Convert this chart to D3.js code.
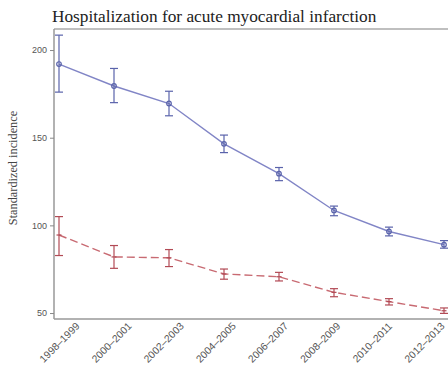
<!DOCTYPE html>
<html>
<head>
<meta charset="utf-8">
<script src="https://cdn.jsdelivr.net/npm/d3@7"></script>
<style>
  body { margin: 0; background: #fff; }
  .tick text { font-family: "Liberation Sans", Arial, sans-serif; font-size: 9px; fill: #555; }
</style>
</head>
<body>
<div id="chart"></div>
<script>
const periods = ["1998–1999", "2000–2001", "2002–2003", "2004–2005", "2006–2007", "2008–2009", "2010–2011", "2012–2013"];

// upper series (solid blue)
const blueMean = [192, 179.5, 169.5, 146.5, 129.5, 108.5, 96.5, 89];
const blueLow  = [176, 170, 162.5, 141.5, 125.5, 105.5, 94, 87];
const blueHigh = [208.5, 189.5, 176.5, 151.5, 133, 111, 99, 91.3];

// lower series (dashed red)
const redMean = [94.5, 82, 81.5, 72.3, 70.7, 61.8, 56.5, 51.3];
const redLow  = [82.8, 75.5, 76.5, 69.3, 68.3, 59.3, 54.6, 49.8];
const redHigh = [105, 88.5, 86.2, 75.1, 73.2, 63.9, 58.2, 52.9];

const yTicks = [50, 100, 150, 200];

const W = 448, H = 365;
const margin = { top: 29, right: 0, bottom: 46, left: 54 };

const svg = d3.select("#chart").append("svg")
  .attr("width", W).attr("height", H);

const x = d3.scalePoint().domain(periods).range([59, 444]);
// labels sit a bit tighter than the points in the original
const xLab = d3.scalePoint().domain(periods).range([60, 425]);
const y = d3.scaleLinear().domain([46.6, 212]).range([H - margin.bottom, margin.top]);

// title
svg.append("text")
  .attr("x", 52).attr("y", 22)
  .attr("font-family", "'Liberation Serif', 'Times New Roman', serif")
  .attr("font-size", 17.3)
  .attr("fill", "#222")
  .text("Hospitalization for acute myocardial infarction");

// frame lines
svg.append("line")
  .attr("x1", margin.left).attr("x2", W)
  .attr("y1", margin.top).attr("y2", margin.top)
  .attr("stroke", "#aaa").attr("stroke-width", 1.5);
svg.append("line")
  .attr("x1", margin.left).attr("x2", W)
  .attr("y1", H - margin.bottom).attr("y2", H - margin.bottom)
  .attr("stroke", "#999").attr("stroke-width", 1.5);

// y axis
const yAxis = svg.append("g")
  .attr("transform", "translate(" + margin.left + ",0)")
  .call(d3.axisLeft(y).tickValues(yTicks).tickSize(4).tickPadding(3));
yAxis.select(".domain")
  .attr("d", "M0," + margin.top + "V" + (H - margin.bottom))
  .attr("stroke", "#999").attr("stroke-width", 1.5);
yAxis.selectAll(".tick line").attr("stroke", "#888");

// y label
svg.append("text")
  .attr("transform", "translate(17,168) rotate(-90)")
  .attr("text-anchor", "middle")
  .attr("font-family", "'Liberation Serif', 'Times New Roman', serif")
  .attr("font-size", 12.3)
  .attr("fill", "#444")
  .text("Standardized incidence");

// x labels
svg.selectAll(".xlab")
  .data(periods)
  .enter()
  .append("text")
  .attr("class", "xlab")
  .attr("transform", (d) => "translate(" + (xLab(d) + 2) + "," + 345 + ") rotate(-45)")
  .attr("text-anchor", "middle")
  .attr("font-family", "'Liberation Sans', Arial, sans-serif")
  .attr("font-size", 10.3)
  .attr("fill", "#555")
  .text((d) => d);

function drawSeries(mean, low, high, color, markColor, dash, marker) {
  const rows = periods.map((p, i) => ({ p: p, m: mean[i], lo: low[i], hi: high[i] }));
  const g = svg.append("g");

  g.append("path")
    .datum(rows)
    .attr("fill", "none")
    .attr("stroke", color)
    .attr("stroke-width", 1.4)
    .attr("stroke-dasharray", dash)
    .attr("d", d3.line().x((d) => x(d.p)).y((d) => y(d.m)));

  const bars = g.selectAll(".err")
    .data(rows)
    .enter()
    .append("g")
    .attr("stroke", markColor)
    .attr("stroke-width", 1.2)
    .attr("fill", "none");
  bars.append("line")
    .attr("x1", (d) => x(d.p)).attr("x2", (d) => x(d.p))
    .attr("y1", (d) => y(d.lo)).attr("y2", (d) => y(d.hi));
  bars.append("line")
    .attr("x1", (d) => x(d.p) - 4).attr("x2", (d) => x(d.p) + 4)
    .attr("y1", (d) => y(d.lo)).attr("y2", (d) => y(d.lo));
  bars.append("line")
    .attr("x1", (d) => x(d.p) - 4).attr("x2", (d) => x(d.p) + 4)
    .attr("y1", (d) => y(d.hi)).attr("y2", (d) => y(d.hi));

  if (marker === "circle") {
    bars.append("circle")
      .attr("cx", (d) => x(d.p)).attr("cy", (d) => y(d.m))
      .attr("r", 2.3);
  } else {
    bars.append("line")
      .attr("x1", (d) => x(d.p) - 2.5).attr("x2", (d) => x(d.p) + 2.5)
      .attr("y1", (d) => y(d.m)).attr("y2", (d) => y(d.m));
  }
}

drawSeries(blueMean, blueLow, blueHigh, "#8185c6", "#5a63ab", null, "circle");
drawSeries(redMean, redLow, redHigh, "#c86a72", "#b24a55", "8,4", "dash");
</script>
</body>
</html>
